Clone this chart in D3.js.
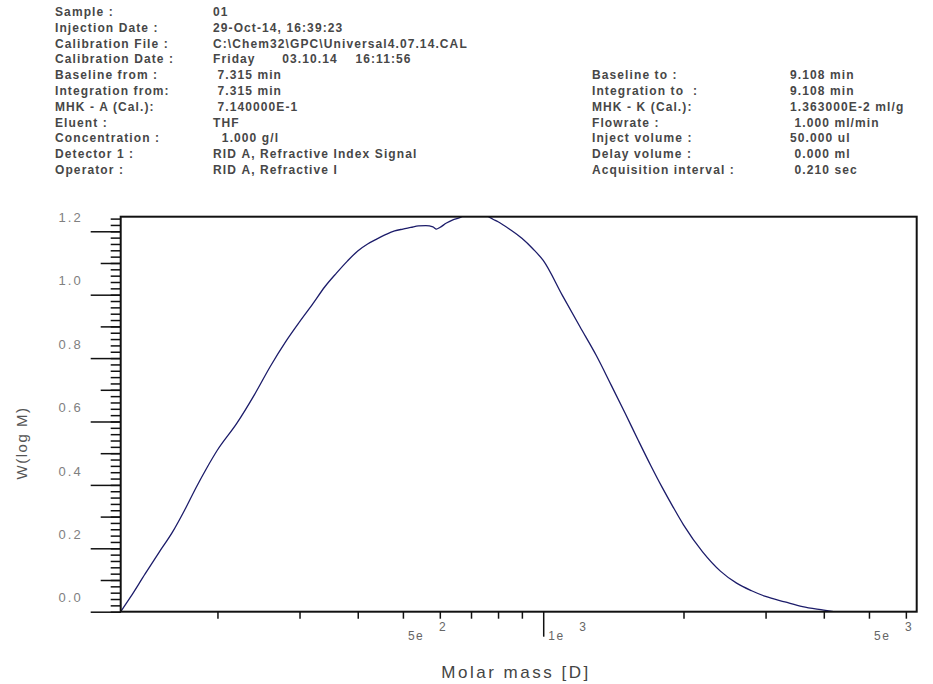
<!DOCTYPE html>
<html>
<head>
<meta charset="utf-8">
<script src="https://d3js.org/d3.v7.min.js"></script>
<style>
  body { margin:0; background:#fff; }
  text { font-family: "Liberation Sans", Arial, sans-serif; }
</style>
</head>
<body>
<script>
// header block
var leftLabels = ["Sample :", "Injection Date :", "Calibration File :", "Calibration Date :", "Baseline from :",
  "Integration from:", "MHK - A (Cal.):", "Eluent :", "Concentration :", "Detector 1 :", "Operator :"];
var leftValues = ["01", "29-Oct-14, 16:39:23", "C:\\Chem32\\GPC\\Universal4.07.14.CAL", "Friday      03.10.14    16:11:56",
  " 7.315 min", " 7.315 min", " 7.140000E-1", "THF", "  1.000 g/l", "RID A, Refractive Index Signal", "RID A, Refractive I"];
var rightLabels = ["Baseline to :", "Integration to  :", "MHK - K (Cal.):", "Flowrate :", "Inject volume :",
  "Delay volume :", "Acquisition interval :"];
var rightValues = ["9.108 min", "9.108 min", "1.363000E-2 ml/g", " 1.000 ml/min", "50.000 ul", " 0.000 ml", " 0.210 sec"];

// distribution curve: molar mass [D] vs W(log M)
var molarMass = [124, 130, 140, 150, 160, 170, 180, 190, 200, 220, 240, 260, 280, 300, 320, 340, 360, 380, 400,
  420, 440, 460, 480, 500, 520, 540, 560, 580, 590, 600, 620, 640, 660, 680, 700, 720, 750, 780, 800, 850, 900,
  950, 1000, 1100, 1200, 1300, 1400, 1500, 1600, 1700, 1800, 1900, 2000, 2200, 2400, 2600, 2800, 3000, 3300,
  3600, 4000, 4200];
var wlogM = [0.0, 0.045, 0.120, 0.188, 0.250, 0.320, 0.392, 0.455, 0.510, 0.594, 0.684, 0.775, 0.851, 0.914,
  0.970, 1.025, 1.068, 1.106, 1.138, 1.160, 1.176, 1.190, 1.201, 1.207, 1.212, 1.217, 1.218, 1.214, 1.207,
  1.212, 1.226, 1.236, 1.242, 1.252, 1.258, 1.258, 1.252, 1.238, 1.230, 1.205, 1.178, 1.145, 1.108, 0.997,
  0.898, 0.808, 0.714, 0.625, 0.540, 0.462, 0.392, 0.330, 0.274, 0.188, 0.128, 0.090, 0.066, 0.048, 0.031,
  0.016, 0.005, 0.0];

// axis ticks
var xTicks = [200, 300, 400, 500, 600, 700, 800, 900, 1000, 2000, 3000, 4000, 5000, 6000];
var xLabelTicks = [500, 1000, 5000];
var xMantissa = ["5e", "1e", "5e"];
var xExponent = ["2", "3", "3"];
var yMinor = d3.range(0, 1.241, 0.02);
var yMid = d3.range(0.1, 1.241, 0.2);
var yMajor = [0.0, 0.2, 0.4, 0.6, 0.8, 1.0, 1.2];

var width = 933, height = 684;
var plot = {left: 120.7, right: 916.7, top: 216.7, bottom: 611.7};

var svg = d3.select("body").append("svg")
  .attr("width", width)
  .attr("height", height);

// keep the runs of spaces in the header values
function keepSpaces(s) { return s.replace(/ /g, "\u00a0"); }

// header text
var header = svg.append("g")
  .style("font-size", "12px")
  .style("font-weight", "bold")
  .style("letter-spacing", "1.1px")
  .style("fill", "#474747");

var rowH = 15.8, row0 = 16;
leftLabels.forEach(function(t, i) {
  header.append("text").attr("x", 55).attr("y", row0 + i * rowH).text(t);
  header.append("text").attr("x", 213).attr("y", row0 + i * rowH).text(keepSpaces(leftValues[i]));
});
rightLabels.forEach(function(t, i) {
  header.append("text").attr("x", 592).attr("y", row0 + (i + 4) * rowH).text(keepSpaces(t));
  header.append("text").attr("x", 790).attr("y", row0 + (i + 4) * rowH).text(keepSpaces(rightValues[i]));
});

// scales
var x = d3.scaleLog()
  .domain([124, 6330])
  .range([plot.left, plot.right]);

var y = d3.scaleLinear()
  .domain([0, 1.246])
  .range([plot.bottom, plot.top]);

// clip for the curve
svg.append("clipPath").attr("id", "clip")
  .append("rect")
  .attr("x", plot.left).attr("y", plot.top)
  .attr("width", plot.right - plot.left)
  .attr("height", plot.bottom - plot.top);

var data = molarMass.map(function(m, i) { return {m: m, w: wlogM[i]}; });

var line = d3.line()
  .x(function(d) { return x(d.m); })
  .y(function(d) { return y(d.w); })
  .curve(d3.curveMonotoneX);

svg.append("path")
  .datum(data)
  .attr("clip-path", "url(#clip)")
  .attr("d", line)
  .attr("fill", "none")
  .attr("stroke", "#1c1c6a")
  .attr("stroke-width", 1.3);

// y axis: minor, mid and major ticks
function yAxisLayer(values, size) {
  return svg.append("g")
    .attr("transform", "translate(" + plot.left + ",0)")
    .call(d3.axisLeft(y).tickValues(values).tickSize(size).tickFormat(""));
}
yAxisLayer(yMinor, 10);
yAxisLayer(yMid, 20);
var yMajorAxis = svg.append("g")
  .attr("transform", "translate(" + plot.left + ",0)")
  .call(d3.axisLeft(y).tickValues(yMajor).tickSize(30).tickPadding(8).tickFormat(d3.format(".1f")));
yMajorAxis.selectAll("text")
  .attr("transform", "translate(0,-14)")
  .style("font-size", "13px")
  .style("letter-spacing", "2px")
  .style("fill", "#808080")
  .style("font-family", "Liberation Sans, Arial, sans-serif");
svg.selectAll(".domain").remove();
svg.selectAll(".tick line").attr("stroke", "#111").attr("stroke-width", 1.5);

// x axis
var xAxis = svg.append("g")
  .attr("transform", "translate(0," + plot.bottom + ")")
  .call(d3.axisBottom(x).tickValues(xTicks).tickSize(7).tickFormat(""));
xAxis.select(".domain").remove();
xAxis.selectAll(".tick line")
  .attr("stroke", "#111").attr("stroke-width", 1.5)
  .attr("y2", function(d) { return d === 1000 ? 25 : 7; });

xLabelTicks.forEach(function(v, i) {
  svg.append("text")
    .attr("x", x(v) + 5)
    .attr("y", plot.bottom + 28)
    .style("font-size", "12px")
    .style("letter-spacing", "1.5px")
    .style("fill", "#666")
    .text(xMantissa[i]);
  svg.append("text")
    .attr("x", x(v) + 36)
    .attr("y", plot.bottom + 19)
    .style("font-size", "12px")
    .style("fill", "#666")
    .text(xExponent[i]);
});

// plot frame
svg.append("rect")
  .attr("x", plot.left).attr("y", plot.top)
  .attr("width", plot.right - plot.left)
  .attr("height", plot.bottom - plot.top)
  .attr("fill", "none")
  .attr("stroke", "#111")
  .attr("stroke-width", 2);

// axis titles
svg.append("text")
  .attr("x", 516)
  .attr("y", 678)
  .style("text-anchor", "middle")
  .style("font-size", "17px")
  .style("letter-spacing", "2.5px")
  .style("fill", "#444")
  .text("Molar mass [D]");

svg.append("text")
  .attr("transform", "translate(27,443) rotate(-90)")
  .style("text-anchor", "middle")
  .style("font-size", "15px")
  .style("letter-spacing", "1.5px")
  .style("fill", "#555")
  .text("W(log M)");
</script>
</body>
</html>
